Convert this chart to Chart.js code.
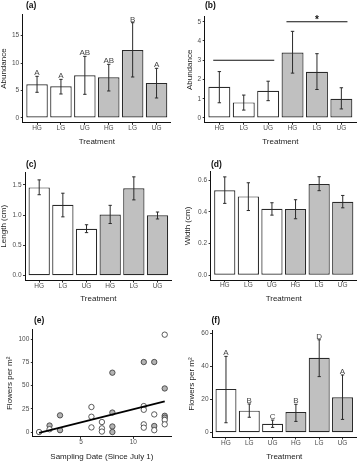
<!DOCTYPE html>
<html lang="en">
<head>
  <meta charset="UTF-8" />
  <title>Treatment panels</title>
  <script src="https://cdn.jsdelivr.net/npm/chart.js"></script>
  <style>
    body { margin: 0; background: #fff; font-family: "Liberation Sans", Arial, sans-serif; }
    #fig { position: relative; width: 357px; height: 461px; overflow: hidden; }
    .panel { position: absolute; }
    .panel canvas { display: block; }
    .tag { position: absolute; font-weight: bold; font-size: 8.5px; line-height: 9px; color: #111; }
  </style>
</head>
<body>
<div id="fig">
  <div class="panel" style="left:0px;top:0px"><canvas id="chartA" width="178" height="150"></canvas></div>
  <div class="panel" style="left:178px;top:0px"><canvas id="chartB" width="179" height="150"></canvas></div>
  <div class="panel" style="left:0px;top:150px"><canvas id="chartC" width="178" height="155"></canvas></div>
  <div class="panel" style="left:178px;top:150px"><canvas id="chartD" width="179" height="155"></canvas></div>
  <div class="panel" style="left:0px;top:305px"><canvas id="chartE" width="178" height="156"></canvas></div>
  <div class="panel" style="left:178px;top:305px"><canvas id="chartF" width="179" height="156"></canvas></div>

  <div class="tag" style="left:26px;top:1px">(a)</div>
  <div class="tag" style="left:205px;top:1px">(b)</div>
  <div class="tag" style="left:26px;top:159.5px">(c)</div>
  <div class="tag" style="left:211px;top:159.5px">(d)</div>
  <div class="tag" style="left:34px;top:315.5px">(e)</div>
  <div class="tag" style="left:211.5px;top:315.5px">(f)</div>
</div>

<script>
  // ---- data ----
  const treatments = ['HG', 'LG', 'UG', 'HG', 'LG', 'UG'];
  const treatmentPos = [1, 2, 3, 4, 5, 6];

  // (a) abundance
  const abundanceA   = [6.13, 5.77, 7.77, 7.41, 12.39, 6.38];
  const abundanceAHi = [7.59, 7.04, 11.23, 9.78, 17.37, 9.05];
  const abundanceALo = [4.68, 4.37, 4.31, 4.92, 7.47, 3.64];
  const lettersA = ['A', 'A', 'AB', 'AB', 'B', 'A'];
  const ticksA = [0, 5, 10, 15];

  // (b) abundance
  const abundanceB   = [1.62, 0.81, 1.41, 3.40, 2.40, 1.00];
  const abundanceBHi = [2.41, 1.19, 1.91, 4.50, 3.34, 1.57];
  const abundanceBLo = [0.79, 0.41, 0.90, 2.33, 1.48, 0.47];
  const ticksB = [0, 1, 2, 3, 4, 5];
  const bracketFrom = [0.75, 3.75];
  const bracketTo = [3.25, 6.25];
  const bracketLevel = [3, 5];
  const bracketMark = ['', '*'];

  // (c) length
  const lengthC   = [1.456, 1.17, 0.775, 1.01, 1.44, 0.995];
  const lengthCHi = [1.58, 1.36, 0.84, 1.16, 1.63, 1.05];
  const lengthCLo = [1.335, 0.97, 0.71, 0.86, 1.25, 0.935];
  const ticksC = [0, 0.5, 1, 1.5];

  // (d) width
  const widthD   = [0.535, 0.497, 0.419, 0.417, 0.575, 0.463];
  const widthDHi = [0.620, 0.583, 0.457, 0.476, 0.621, 0.503];
  const widthDLo = [0.453, 0.408, 0.379, 0.356, 0.533, 0.425];
  const ticksD = [0, 0.2, 0.4, 0.6];

  // (e) flowers by sampling date
  const whiteDates   = [1, 2, 6, 6, 6, 7, 7, 7, 11, 11, 11, 11, 12, 12, 13, 13, 13];
  const whiteFlowers = [0, 3, 27, 16.5, 5, 10.8, 4, 0.5, 28, 24, 8.3, 4.7, 19, 2, 105, 13, 8.3];
  const grayDates    = [2, 3, 3, 8, 8, 8, 8, 11, 12, 12, 13, 13, 13];
  const grayFlowers  = [7, 18, 2, 64, 21, 6, 0, 75.5, 75.5, 6.5, 47, 17.5, 15.5];
  const fitDates   = [1, 13];
  const fitFlowers = [-0.8, 33];
  const ticksEx = [5, 10];
  const ticksEy = [0, 25, 50, 75, 100];

  // (f) flowers per m2
  const flowersF   = [26.4, 13.3, 5.4, 12.5, 45.1, 21.3];
  const flowersFHi = [46, 17.3, 7.6, 17.1, 56, 34.8];
  const flowersFLo = [6, 9.3, 3.2, 6.8, 33.8, 8.0];
  const lettersF = ['A', 'B', 'C', 'B', 'D', 'A'];
  const ticksF = [0, 20, 40, 60];

  // ---- styling ----
  const FONT = '"Liberation Sans", Arial, sans-serif';
  const tickFont = { family: FONT, size: 6.5, lineHeight: 1 };
  const titleFont = { family: FONT, size: 8, lineHeight: 1 };
  const tickColor = '#4d4d4d';
  const titleColor = '#222';
  const barFill = ['#ffffff', '#ffffff', '#ffffff', '#c0c0c0', '#c0c0c0', '#c0c0c0'];

  function pairs(xs, ys) { return xs.map((x, i) => ({ x: x, y: ys[i] })); }

  // error bars, letters and brackets on top of bars
  const extras = {
    id: 'extras',
    afterDatasetsDraw(chart, args, o) {
      if (!o || !o.hi) return;
      const { ctx } = chart;
      const x = chart.scales.x, y = chart.scales.y;
      ctx.save();
      ctx.strokeStyle = '#2a2a2a';
      ctx.lineWidth = 1;
      const cap = x.getPixelForValue(1.07) - x.getPixelForValue(1);
      o.hi.forEach((h, i) => {
        const px = x.getPixelForValue(treatmentPos[i]);
        const top = y.getPixelForValue(h), bot = y.getPixelForValue(o.lo[i]);
        ctx.beginPath();
        ctx.moveTo(px, top); ctx.lineTo(px, bot);
        ctx.moveTo(px - cap, top); ctx.lineTo(px + cap, top);
        ctx.moveTo(px - cap, bot); ctx.lineTo(px + cap, bot);
        ctx.stroke();
      });
      if (o.letters) {
        ctx.fillStyle = '#444';
        ctx.font = '8px ' + FONT;
        ctx.textAlign = 'center';
        ctx.textBaseline = 'alphabetic';
        o.letters.forEach((t, i) => {
          ctx.fillText(t, x.getPixelForValue(treatmentPos[i]), y.getPixelForValue(o.hi[i]) - 1);
        });
      }
      if (o.brackets) {
        ctx.strokeStyle = '#111';
        ctx.lineWidth = 1.1;
        o.brackets.from.forEach((f, i) => {
          const py = y.getPixelForValue(o.brackets.level[i]);
          ctx.beginPath();
          ctx.moveTo(x.getPixelForValue(f), py);
          ctx.lineTo(x.getPixelForValue(o.brackets.to[i]), py);
          ctx.stroke();
          if (o.brackets.mark[i]) {
            ctx.fillStyle = '#111';
            ctx.font = 'bold 10px ' + FONT;
            ctx.textAlign = 'center';
            ctx.textBaseline = 'alphabetic';
            ctx.fillText(o.brackets.mark[i], x.getPixelForValue((f + o.brackets.to[i]) / 2), py + 1);
          }
        });
      }
      ctx.restore();
    }
  };

  function scalesFor(p) {
    const axisGrid = { display: true, drawOnChartArea: false, drawTicks: true, tickLength: 2, tickColor: '#333', tickWidth: 1, offset: false };
    const axisBorder = { display: true, color: '#111', width: 1 };
    return {
      x: {
        type: 'linear', min: p.xMin, max: p.xMax, offset: false,
        afterFit: s => { s.height = p.H - p.b; },
        afterBuildTicks: s => { s.ticks = p.xTicks.map(v => ({ value: v })); },
        ticks: { callback: (v, i) => p.xLabels[i], color: tickColor, font: tickFont, padding: 0, autoSkip: false, maxRotation: 0 },
        grid: axisGrid, border: axisBorder,
        title: { display: true, text: p.xTitle, color: titleColor, font: titleFont, padding: { top: 0, bottom: p.H - p.xTitleY - 4 } }
      },
      y: {
        type: 'linear', min: p.yMin, max: p.yMax,
        afterFit: s => { s.width = p.l; },
        afterBuildTicks: s => { s.ticks = p.yTicks.map(v => ({ value: v })); },
        ticks: { callback: v => (p.yDigits ? v.toFixed(p.yDigits) : v), color: tickColor, font: tickFont, padding: 1.5, autoSkip: false },
        grid: axisGrid, border: axisBorder,
        title: { display: true, text: p.yTitle, color: titleColor, font: titleFont, padding: { top: p.yTitleX - 4, bottom: 0 } }
      }
    };
  }

  function barPanel(id, p) {
    new Chart(document.getElementById(id), {
      type: 'bar',
      data: {
        datasets: [{
          data: pairs(treatmentPos, p.mean),
          backgroundColor: barFill,
          borderColor: '#2a2a2a',
          borderWidth: 1.2,
          borderSkipped: false,
          inflateAmount: 0,
          barPercentage: 0.9,
          categoryPercentage: 1
        }]
      },
      options: {
        responsive: false,
        animation: false,
        layout: { padding: { left: 0, top: p.t, right: p.W - p.r, bottom: 0 } },
        plugins: {
          legend: { display: false },
          tooltip: { enabled: false },
          extras: { hi: p.hi, lo: p.lo, letters: p.letters, brackets: p.brackets }
        },
        scales: scalesFor(Object.assign({ xMin: 0.4, xMax: 6.6, xTicks: treatmentPos, xLabels: treatments, xTitle: 'Treatment' }, p))
      },
      plugins: [extras]
    });
  }

  barPanel('chartA', {
    W: 178, H: 150, l: 22.7, r: 170.9, t: 14.3, b: 122.9, xTitleY: 141.7, yTitleX: 4,
    mean: abundanceA, hi: abundanceAHi, lo: abundanceALo, letters: lettersA,
    yMin: -0.9, yMax: 18.9, yTicks: ticksA, yTitle: 'Abundance'
  });

  barPanel('chartB', {
    W: 179, H: 150, l: 26.7, r: 178, t: 16.9, b: 122.8, xTitleY: 141.7, yTitleX: 11.7,
    mean: abundanceB, hi: abundanceBHi, lo: abundanceBLo,
    brackets: { from: bracketFrom, to: bracketTo, level: bracketLevel, mark: bracketMark },
    yMin: -0.25, yMax: 5.25, yTicks: ticksB, yTitle: 'Abundance'
  });

  barPanel('chartC', {
    W: 178, H: 155, l: 25, r: 171.7, t: 22, b: 130.6, xTitleY: 148.5, yTitleX: 4,
    mean: lengthC, hi: lengthCHi, lo: lengthCLo,
    yMin: -0.0815, yMax: 1.71, yTicks: ticksC, yDigits: 1, yTitle: 'Length (cm)'
  });

  barPanel('chartD', {
    W: 179, H: 155, l: 32.6, r: 178.9, t: 21.8, b: 130.2, xTitleY: 148.5, yTitleX: 10,
    mean: widthD, hi: widthDHi, lo: widthDLo,
    yMin: -0.031, yMax: 0.652, yTicks: ticksD, yDigits: 1, yTitle: 'Width (cm)'
  });

  barPanel('chartF', {
    W: 179, H: 156, l: 34, r: 178.5, t: 25.5, b: 132.5, xTitleY: 151.7, yTitleX: 13.3,
    mean: flowersF, hi: flowersFHi, lo: flowersFLo, letters: lettersF,
    yMin: -2.9, yMax: 61.6, yTicks: ticksF, yTitle: 'Flowers per m²'
  });

  // (e) scatter with fitted line
  const pE = {
    W: 178, H: 156, l: 32.8, r: 171, t: 24.8, b: 131.9, xTitleY: 151.7, yTitleX: 10,
    xMin: 0.4, xMax: 13.6, xTicks: ticksEx, xLabels: ticksEx, xTitle: 'Sampling Date (Since July 1)',
    yMin: -5.25, yMax: 110.25, yTicks: ticksEy, yTitle: 'Flowers per m²'
  };
  new Chart(document.getElementById('chartE'), {
    type: 'scatter',
    data: {
      datasets: [
        { type: 'line', data: pairs(fitDates, fitFlowers), borderColor: '#000', borderWidth: 1.8, pointRadius: 0, order: 0 },
        { data: pairs(whiteDates, whiteFlowers), backgroundColor: '#fff', borderColor: '#333', borderWidth: 0.8, pointRadius: 2.7, order: 1 },
        { data: pairs(grayDates, grayFlowers), backgroundColor: '#b3b3b3', borderColor: '#333', borderWidth: 0.8, pointRadius: 2.7, order: 1 }
      ]
    },
    options: {
      responsive: false,
      animation: false,
      layout: { padding: { left: 0, top: pE.t, right: pE.W - pE.r, bottom: 0 } },
      plugins: { legend: { display: false }, tooltip: { enabled: false } },
      scales: scalesFor(pE)
    }
  });
</script>
</body>
</html>
